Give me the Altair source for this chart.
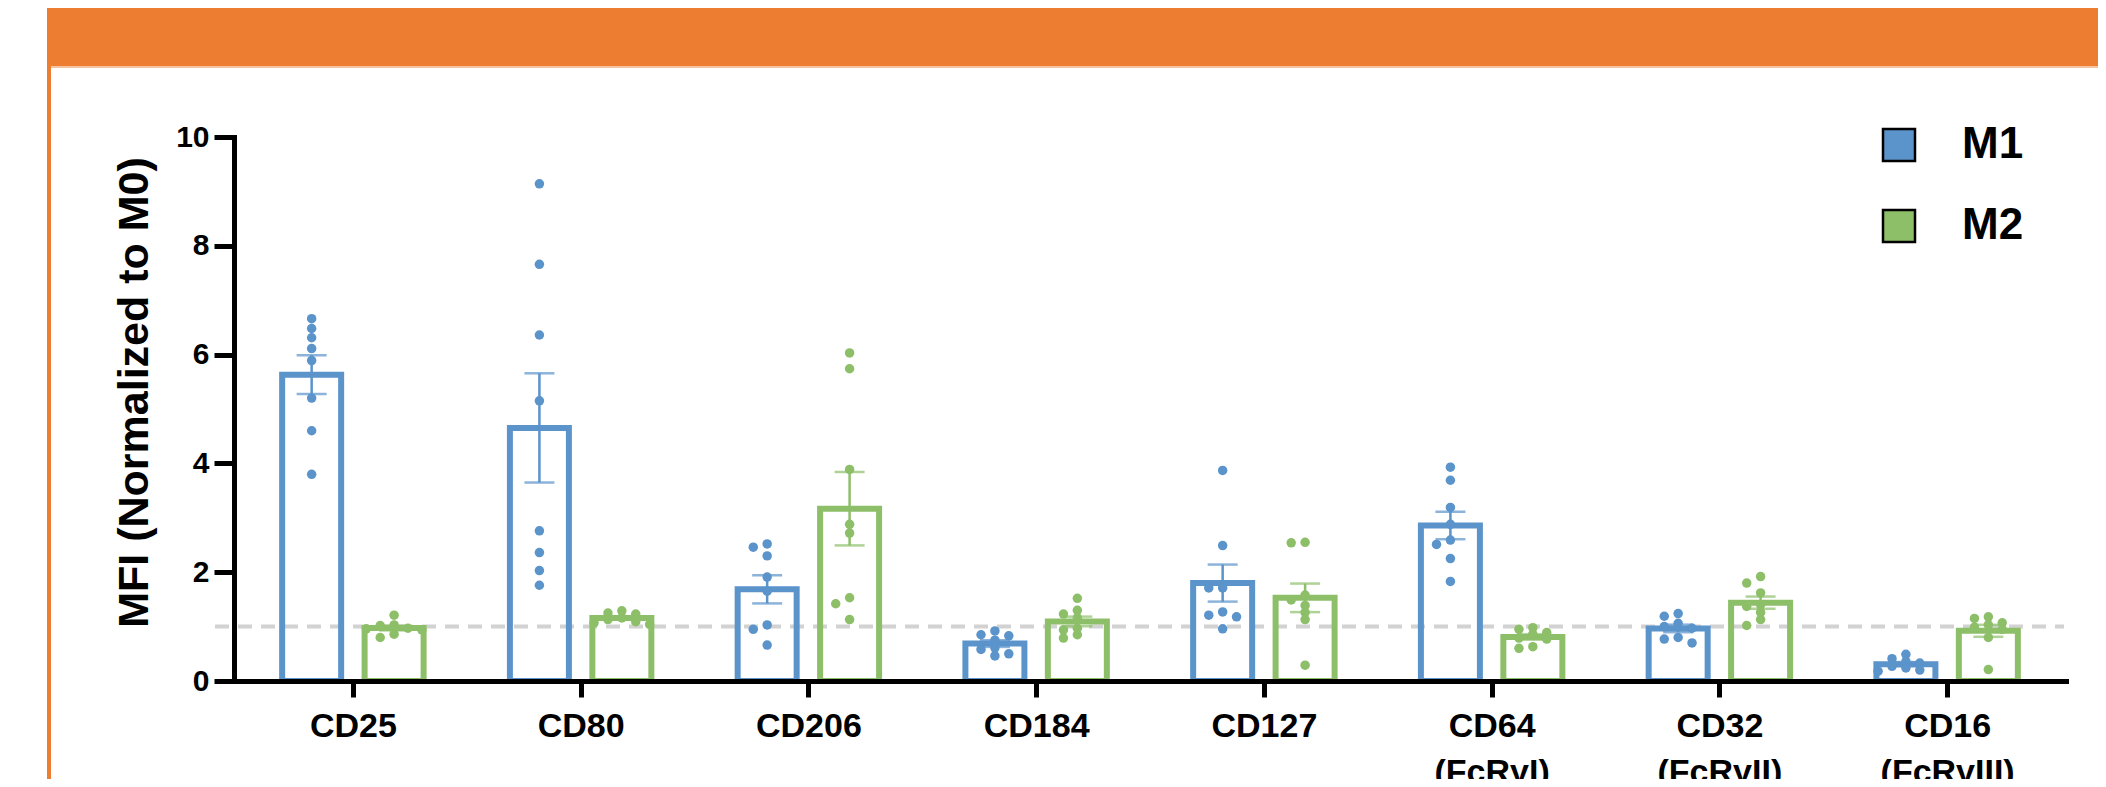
import altair as alt
import pandas as pd

# ---------------- data ----------------
categories = ["CD25", "CD80", "CD206", "CD184", "CD127", "CD64", "CD32", "CD16"]
second_lines = ["", "", "", "", "", "(FcRγI)", "(FcRγII)", "(FcRγIII)"]
groups = ["M1", "M2"]
group_colors = ["#5B93CB", "#8DBF69"]
y_ticks = [0, 2, 4, 6, 8, 10]
y_title = "MFI (Normalized to M0)"
reference_level = [1]

m1_points = [
    [6.66, 6.48, 6.31, 6.11, 5.89, 5.20, 4.60, 3.80],
    [9.14, 7.66, 6.36, 5.15, 2.76, 2.36, 2.03, 1.76],
    [2.52, 2.46, 2.30, 1.91, 1.65, 1.03, 0.95, 0.66],
    [0.92, 0.85, 0.83, 0.75, 0.61, 0.58, 0.50, 0.46],
    [3.87, 2.49, 1.71, 1.71, 1.27, 1.21, 1.18, 0.96],
    [3.93, 3.69, 3.19, 2.88, 2.59, 2.51, 2.25, 1.83],
    [1.24, 1.19, 1.06, 1.00, 0.97, 0.80, 0.77, 0.70],
    [0.49, 0.41, 0.36, 0.33, 0.27, 0.24, 0.20, 0.18],
]
m2_points = [
    [1.21, 1.03, 1.02, 0.97, 0.96, 0.94, 0.86, 0.80],
    [1.29, 1.25, 1.23, 1.16, 1.13, 1.09, 1.07, 1.04],
    [6.03, 5.74, 3.89, 2.88, 2.72, 1.53, 1.42, 1.13],
    [1.52, 1.30, 1.23, 1.16, 0.97, 0.94, 0.85, 0.79],
    [2.55, 2.54, 1.58, 1.49, 1.39, 1.26, 1.13, 0.29],
    [0.98, 0.95, 0.89, 0.86, 0.79, 0.77, 0.63, 0.60],
    [1.92, 1.80, 1.62, 1.40, 1.37, 1.26, 1.13, 1.02],
    [1.18, 1.15, 1.07, 1.03, 0.99, 0.95, 0.80, 0.21],
]

# ---------------- long table + deterministic dot spreading ----------------
rows = []
for ci, cat in enumerate(categories):
    for g, series in zip(groups, [m1_points, m2_points]):
        vals = series[ci]
        placed = []
        for v in sorted(vals, reverse=True):
            slot = 0
            for s in [0, -1, 1, -2, 2, -3, 3]:
                if all(not (ps == s and abs(pv - v) < 0.12) for pv, ps in placed):
                    slot = s
                    break
            placed.append((v, slot))
            rows.append({"category": cat, "idx": ci, "group": g, "value": v, "slot": slot})
df = pd.DataFrame(rows)

FONT = "Liberation Sans"

label_js = "[" + ",".join(
    "[" + ",".join("'" + t + "'" for t in ([c] + ([s] if s else []))) + "]"
    for c, s in zip(categories, second_lines)
) + "]"

xscale = alt.Scale(domain=[-0.5, len(categories) - 0.5], nice=False, zero=False)
yscale = alt.Scale(domain=[0, 10], nice=False)
cscale = alt.Scale(domain=groups, range=group_colors)
sscale = alt.Scale(range=group_colors)  # outline colours (data-driven domain, M1 < M2)

x_axis = alt.Axis(
    values=list(range(len(categories))), labelExpr=label_js + "[datum.value]",
    title=None, grid=False, domainColor="black", domainWidth=5, domainCap="square",
    tickColor="black", tickWidth=5, tickSize=16, labelFont=FONT, labelFontSize=34,
    labelFontWeight="bold", labelColor="black", labelPadding=12, labelLineHeight=46,
    labelFlush=False, labelOverlap=False, labelBound=False, zindex=1,
)
y_axis = alt.Axis(
    values=y_ticks, format="d", title=y_title, grid=False, domainColor="black",
    domainWidth=5, domainCap="square", tickColor="black", tickWidth=5, tickSize=20,
    labelFont=FONT, labelFontSize=30, labelFontWeight="bold", labelColor="black",
    labelPadding=5, titleFont=FONT, titleFontSize=43, titleFontWeight="bold",
    titleColor="black", titleX=-78, titleY=255, zindex=1,
)

legend = alt.Legend(
    title=None, orient="none", legendX=1643, legendY=-14, padding=0,
    symbolType="square", symbolSize=1024, symbolStrokeColor="black",
    symbolStrokeWidth=2.5, symbolOpacity=1, labelFont=FONT, labelFontSize=44,
    labelFontWeight="bold", labelColor="black", labelOffset=41, rowPadding=37,
)

group_shift = "(datum.group == 'M1' ? -0.181 : 0.181)"
base = alt.Chart(df)

X = alt.X("xpos:Q", scale=xscale, axis=x_axis)

bars = base.transform_aggregate(
    mean_value="mean(value)", groupby=["idx", "group"]
).transform_calculate(
    xpos="datum.idx + " + group_shift, outline="datum.group"
).mark_bar(size=59, strokeWidth=6, fillOpacity=0, orient="vertical").encode(
    x=X,
    y=alt.Y("mean_value:Q", scale=yscale, axis=y_axis),
    stroke=alt.Stroke("outline:N", scale=sscale, legend=None),
)

err_base = base.transform_aggregate(
    m="mean(value)", se="stderr(value)", groupby=["idx", "group"]
).transform_calculate(
    xpos="datum.idx + " + group_shift, lo="datum.m - datum.se", hi="datum.m + datum.se",
    outline="datum.group",
)
err_rule = err_base.mark_rule(strokeWidth=2.5).encode(
    x=X,
    y=alt.Y("lo:Q", scale=yscale, axis=y_axis),
    y2="hi:Q",
    stroke=alt.Stroke("outline:N", scale=sscale, legend=None),
)
err_caps = err_base.transform_fold(["lo", "hi"], as_=["end", "yv"]).mark_tick(
    orient="horizontal", size=30, thickness=2.5
).encode(
    x=X,
    y=alt.Y("yv:Q", scale=yscale, axis=y_axis),
    color=alt.Color("group:N", scale=cscale, legend=legend),
)

points = base.transform_calculate(
    xpos="datum.idx + " + group_shift + " + datum.slot * 0.061"
).mark_circle(size=90, opacity=1).encode(
    x=X,
    y=alt.Y("value:Q", scale=yscale, axis=y_axis),
    color=alt.Color("group:N", scale=cscale, legend=legend),
)

ref_df = pd.DataFrame({"ref": reference_level})
dashed = alt.Chart(ref_df).mark_rule(
    strokeDash=[14, 9], strokeWidth=4, color="#D2D2D2"
).encode(
    y=alt.Y("ref:Q", scale=yscale, axis=y_axis),
    x=alt.value(-19), x2=alt.value(1830),
)

# decorative slide frame (orange header band and side rule)
deco_df = pd.DataFrame({"d": [0]})
band = alt.Chart(deco_df).mark_rect(color="#ED7D31").encode(
    x=alt.value(-187), x2=alt.value(1900), y=alt.value(-140), y2=alt.value(-71)
)
band_edge = alt.Chart(deco_df).mark_rule(color="#F6C3A0", strokeWidth=2).encode(
    x=alt.value(-183), x2=alt.value(1900), y=alt.value(-70)
)
side_rule = alt.Chart(deco_df).mark_rule(color="#ED7D31", strokeWidth=4).encode(
    x=alt.value(-185), y=alt.value(-75), y2=alt.value(700)
)

chart = alt.layer(
    band, band_edge, side_rule, dashed, bars, err_rule, err_caps, points
).properties(
    width=1832, height=544,
    autosize=alt.AutoSizeParams(type="none"),
    padding={"left": 226, "top": 129, "right": 32, "bottom": 98},
).configure(font=FONT).configure_view(stroke=None)

chart.save("out.html", embed_options={"renderer": "svg", "actions": False})
